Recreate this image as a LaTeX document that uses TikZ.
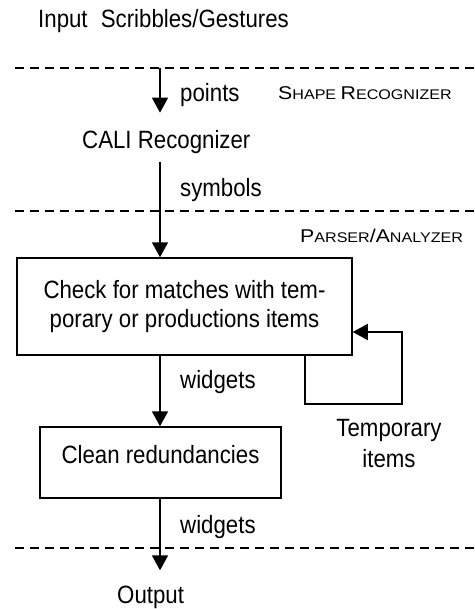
\documentclass[tikz,border=0pt]{standalone}
\usepackage{fontspec}
\setmainfont{Liberation Sans}[FakeStretch=0.89]
\newfontfamily\capsfont{Liberation Sans}[FakeStretch=1.15]
\usetikzlibrary{arrows.meta}
\newcommand{\mainsize}{\fontsize{25}{29}\selectfont}
\newcommand{\scBig}[1]{{\fontsize{18.5}{20}\selectfont #1}}
\newcommand{\scSmall}[1]{{\fontsize{14}{20}\selectfont #1}}
\begin{document}
\begin{tikzpicture}[x=1pt,y=-1pt,
  lbl/.style={inner sep=0pt, font=\mainsize, anchor=base west},
  layer/.style={inner sep=0pt, font=\capsfont, anchor=base west},
  boxnode/.style={draw, line width=1.5pt, inner sep=0pt, font=\mainsize, align=center},
  flow/.style={line width=1.5pt, -{Triangle[width=16pt,length=15pt]}},
  sep/.style={line width=1.3pt, dash pattern=on 9pt off 6pt}]
\useasboundingbox (0,0) rectangle (474,609);

% layer separators
\coordinate (d1w) at (15,68);  \coordinate (d1e) at (474,68);
\coordinate (d2w) at (15,211); \coordinate (d2e) at (474,211);
\coordinate (d3w) at (15,548); \coordinate (d3e) at (474,548);
\draw[sep] (d1w) -- (d1e);
\draw[sep] (d2w) -- (d2e);
\draw[sep] (d3w) -- (d3e);

% texts
\node[lbl] (input) at (38,27.7) {Input\hspace{7pt} Scribbles/Gestures};
\node[layer] (shape) at (278,100) {\scBig{S}\scSmall{HAPE }\scBig{R}\scSmall{ECOGNIZER}};
\node[lbl] (cali) at (82,149) {CALI Recognizer};
\node[layer] (parser) at (300,242) {\scBig{P}\scSmall{ARSER}\scBig{/A}\scSmall{NALYZER}};
\node[lbl] (output) at (117,603) {Output};

% boxes
\node[boxnode, minimum width=335pt, minimum height=97pt] (check) at (184.5,306.5)
  {Check for matches with tem-\\porary or productions items};
\node[boxnode, minimum width=241pt, minimum height=71pt, text height=18pt, text depth=17pt] (clean) at (160.5,462.5)
  {Clean redundancies};
\node[inner sep=0pt, font=\fontsize{25}{31}\selectfont, align=center, anchor=north] (temp) at (389,419)
  {Temporary\\items};

% flow arrows
\coordinate (a1) at (160,68);
\draw[flow, shorten >=18pt] (a1) -- (a1 |- cali.north);
\draw[flow, shorten <=7.5pt] (a1 |- cali.south) -- (a1 |- check.north);
\draw[flow] (a1 |- check.south) -- (a1 |- clean.north);
\draw[flow, shorten >=15pt] (a1 |- clean.south) -- (a1 |- output.north);

% arrow labels
\node[lbl] (lpoints) at (180,102) {points};
\node[lbl] (lsymbols) at (180,197) {symbols};
\node[lbl] (lwidgets1) at (180,388) {widgets};
\node[lbl] (lwidgets2) at (180,533) {widgets};

% feedback loop
\draw[flow] ([xshift=-48pt]check.south east) -- ++(0,48)
  -| ([xshift=49pt,yshift=-25.5pt]check.east) -- ([yshift=-25.5pt]check.east);
\end{tikzpicture}
\end{document}
